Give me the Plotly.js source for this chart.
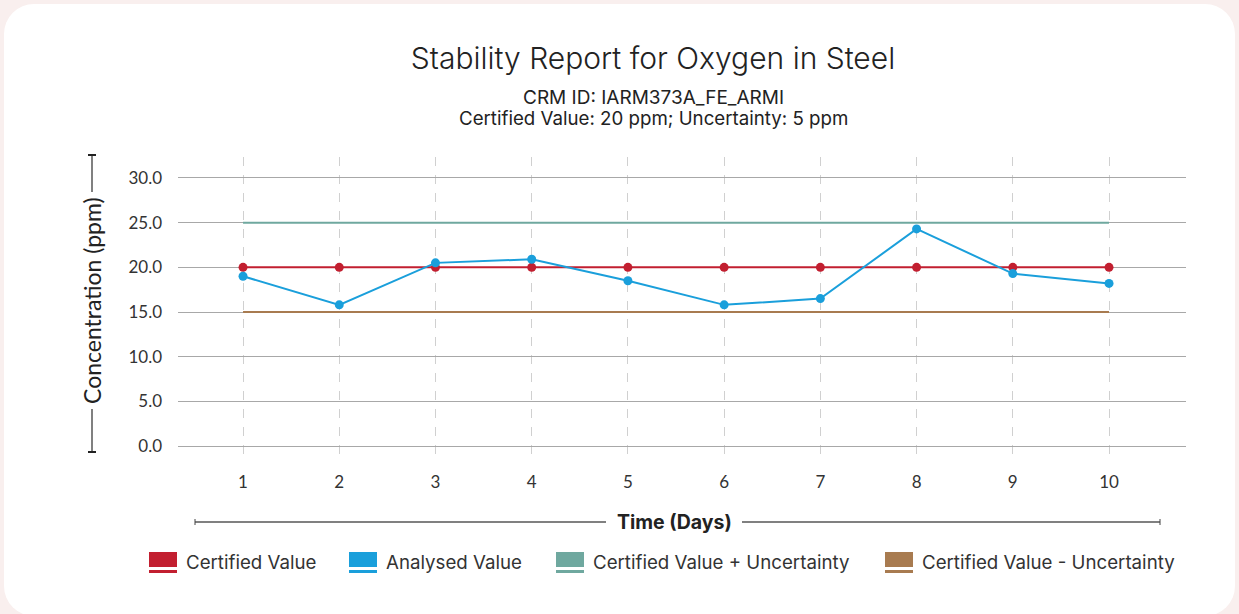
<!DOCTYPE html>
<html>
<head>
<meta charset="utf-8">
<script src="https://cdn.plot.ly/plotly-3.0.1.min.js"></script>
<style>
  html, body { margin:0; padding:0; width:1239px; height:614px; background:#f9efee; overflow:hidden; }
  #card { position:absolute; left:4px; top:4px; width:1231px; height:612px; background:#ffffff; border-radius:30px; }
  #chart { position:absolute; left:0; top:0; width:1239px; height:614px; }
</style>
</head>
<body>
<div id="card"></div>
<div id="chart"></div>
<script>
const days = [1, 2, 3, 4, 5, 6, 7, 8, 9, 10];
const certifiedValue = [20, 20, 20, 20, 20, 20, 20, 20, 20, 20];
const analysedValue = [19.0, 15.8, 20.5, 20.9, 18.5, 15.8, 16.5, 24.3, 19.3, 18.2];
const upperLimit = [25, 25, 25, 25, 25, 25, 25, 25, 25, 25];
const lowerLimit = [15, 15, 15, 15, 15, 15, 15, 15, 15, 15];
const yTicks = [0, 5, 10, 15, 20, 25, 30];
const seriesNames = ["Certified Value", "Analysed Value", "Certified Value + Uncertainty", "Certified Value - Uncertainty"];
const seriesColors = ["#c21f30", "#1a9fdb", "#6fa89f", "#a87b50"];

const traces = [
  {x: days, y: upperLimit, name: seriesNames[2], mode: "lines", line: {color: seriesColors[2], width: 2}},
  {x: days, y: lowerLimit, name: seriesNames[3], mode: "lines", line: {color: seriesColors[3], width: 2}},
  {x: days, y: certifiedValue, name: seriesNames[0], mode: "lines+markers", line: {color: seriesColors[0], width: 2}, marker: {color: seriesColors[0], size: 9}},
  {x: days, y: analysedValue, name: seriesNames[1], mode: "lines+markers", line: {color: seriesColors[1], width: 2}, marker: {color: seriesColors[1], size: 9}}
];

const W = 1239, H = 614, ml = 178, mr = 53, mt = 157, mb = 157;
const pw = W - ml - mr, ph = H - mt - mb;
function px(x) { return (x - ml) / pw; }
function py(y) { return (H - mb - y) / ph; }

const textFont = "Inter, sans-serif";
const legendX = [149, 349, 556, 885];
const shapes = [];
const annotations = [];
[0, 1, 2, 3].forEach((k, i) => {
  const x0 = legendX[i];
  shapes.push({type: "rect", xref: "paper", yref: "paper", x0: px(x0), x1: px(x0 + 28), y0: py(567), y1: py(552), fillcolor: seriesColors[k], line: {width: 0}});
  shapes.push({type: "rect", xref: "paper", yref: "paper", x0: px(x0), x1: px(x0 + 28), y0: py(573), y1: py(570), fillcolor: seriesColors[k], line: {width: 0}});
  annotations.push({xref: "paper", yref: "paper", x: px(x0 + 35), y: py(562), xanchor: "left", yanchor: "middle", showarrow: false, text: seriesNames[k], font: {family: textFont, size: 18.7, color: "#333"}});
});

const lineCol = "#808080";
shapes.push({type: "line", xref: "paper", yref: "paper", x0: px(92), x1: px(92), y0: py(155), y1: py(192), line: {color: lineCol, width: 2}});
shapes.push({type: "line", xref: "paper", yref: "paper", x0: px(92), x1: px(92), y0: py(409), y1: py(452), line: {color: lineCol, width: 2}});
shapes.push({type: "line", xref: "paper", yref: "paper", x0: px(88), x1: px(96), y0: py(155), y1: py(155), line: {color: "#222", width: 2}});
shapes.push({type: "line", xref: "paper", yref: "paper", x0: px(88), x1: px(96), y0: py(452), y1: py(452), line: {color: "#222", width: 2}});
shapes.push({type: "line", xref: "paper", yref: "paper", x0: px(195), x1: px(606), y0: py(522), y1: py(522), line: {color: lineCol, width: 2}});
shapes.push({type: "line", xref: "paper", yref: "paper", x0: px(742), x1: px(1160), y0: py(522), y1: py(522), line: {color: lineCol, width: 2}});
shapes.push({type: "line", xref: "paper", yref: "paper", x0: px(195), x1: px(195), y0: py(519), y1: py(525), line: {color: "#444", width: 1}});
shapes.push({type: "line", xref: "paper", yref: "paper", x0: px(1160), x1: px(1160), y0: py(519), y1: py(525), line: {color: "#444", width: 1}});

annotations.push({xref: "paper", yref: "paper", x: px(92), y: py(301), xanchor: "center", yanchor: "middle", showarrow: false, textangle: -90, text: "Concentration (ppm)", font: {family: "Lato, sans-serif", size: 23, color: "#222"}});
annotations.push({xref: "paper", yref: "paper", x: px(674), y: py(522), xanchor: "center", yanchor: "middle", showarrow: false, text: "<b>Time (Days)</b>", font: {family: textFont, size: 19.5, color: "#222"}});
annotations.push({xref: "paper", yref: "paper", x: px(653), y: py(97), xanchor: "center", yanchor: "middle", showarrow: false, text: "CRM ID: IARM373A_FE_ARMI", font: {family: textFont, size: 19, color: "#222"}});
annotations.push({xref: "paper", yref: "paper", x: px(653), y: py(119), xanchor: "center", yanchor: "middle", showarrow: false, text: "Certified Value: 20 ppm; Uncertainty: 5 ppm", font: {family: textFont, size: 18.7, color: "#222"}});

const layout = {
  width: W, height: H,
  margin: {l: ml, r: mr, t: mt, b: mb},
  paper_bgcolor: "rgba(0,0,0,0)",
  plot_bgcolor: "rgba(0,0,0,0)",
  showlegend: false,
  title: {text: "Stability Report for Oxygen in Steel", xref: "container", x: 653 / W, xanchor: "center", yref: "container", y: 1 - 58 / H, yanchor: "middle", font: {family: textFont, size: 30, color: "#222", weight: 300}},
  xaxis: {
    range: [0.324, 10.8], tickvals: days, ticktext: days.map(String),
    showgrid: true, gridcolor: "#d0d0d0", griddash: "dash", gridwidth: 1,
    zeroline: false, showline: false, ticks: "", ticklabelstandoff: 13,
    tickfont: {family: "Lato, sans-serif", size: 17, color: "#333"}
  },
  yaxis: {
    range: [-1.23, 32.35], tickvals: yTicks, ticktext: yTicks.map(v => v.toFixed(1)),
    showgrid: true, gridcolor: "#a8a8a8", gridwidth: 1,
    zeroline: false, showline: false, ticks: "", ticklabelstandoff: 15,
    tickfont: {family: "Lato, sans-serif", size: 17, color: "#333"}
  },
  shapes: shapes,
  annotations: annotations
};

Plotly.newPlot("chart", traces, layout, {displayModeBar: false, staticPlot: true});
</script>
</body>
</html>
